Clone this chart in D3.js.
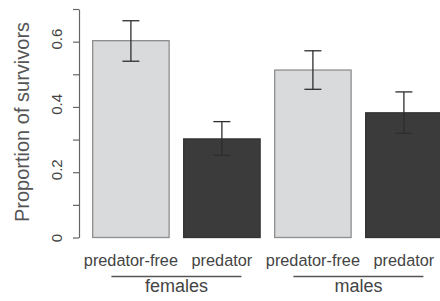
<!DOCTYPE html>
<html>
<head>
<meta charset="utf-8">
<script src="https://cdn.jsdelivr.net/npm/d3@7"></script>
<style>
  html, body { margin: 0; padding: 0; background: #fff; }
  svg { display: block; font-family: "Liberation Sans", Arial, Helvetica, sans-serif; }
</style>
</head>
<body>
<svg id="chart" width="440" height="301"></svg>
<script>
// ---- data ----
const categories = ["predator-free", "predator", "predator-free", "predator"];
const groups = ["females", "males"];
const groupOf = [0, 0, 1, 1];
const proportions = [0.603, 0.302, 0.513, 0.382];
const errLow = [0.540, 0.252, 0.454, 0.319];
const errHigh = [0.664, 0.355, 0.572, 0.446];
const yTickValues = [0, 0.1, 0.2, 0.3, 0.4, 0.5, 0.6, 0.7];
const yTickLabels = ["0", "", "0.2", "", "0.4", "", "0.6", ""];
const yTitle = "Proportion of survivors";

// ---- layout ----
const svg = d3.select("#chart");
const idx = d3.range(categories.length);

const x = d3.scaleBand()
  .domain(idx)
  .range([85.4, 449.4])
  .paddingInner(0.16)
  .paddingOuter(0.08);

const y = d3.scaleLinear().domain([0, 0.7]).range([237.5, 9]);

const fills = ["#d9dadc", "#3b3b3b", "#d9dadc", "#3b3b3b"];
const strokes = ["#8e8e8e", "#333333", "#8e8e8e", "#333333"];

// bars
svg.append("g").selectAll("rect")
  .data(idx)
  .join("rect")
  .attr("x", i => x(i))
  .attr("y", i => y(proportions[i]))
  .attr("width", x.bandwidth())
  .attr("height", i => y(0) - y(proportions[i]))
  .attr("fill", i => fills[i])
  .attr("stroke", i => strokes[i])
  .attr("stroke-width", 1.3);

// error bars
const eb = svg.append("g").attr("stroke", "#2e2e2e").attr("stroke-width", 1.3).attr("fill", "none");
const cap = 8.5;
idx.forEach(i => {
  const cx = x(i) + x.bandwidth() / 2;
  eb.append("line").attr("x1", cx).attr("x2", cx).attr("y1", y(errLow[i])).attr("y2", y(errHigh[i]));
  eb.append("line").attr("x1", cx - cap).attr("x2", cx + cap).attr("y1", y(errLow[i])).attr("y2", y(errLow[i]));
  eb.append("line").attr("x1", cx - cap).attr("x2", cx + cap).attr("y1", y(errHigh[i])).attr("y2", y(errHigh[i]));
});

// y axis
const axis = d3.axisLeft(y)
  .tickValues(yTickValues)
  .tickFormat((d, i) => yTickLabels[i])
  .tickSize(6)
  .tickSizeOuter(0);

const ag = svg.append("g").attr("transform", "translate(79,0)").call(axis);
ag.select(".domain").attr("stroke", "#666").attr("stroke-width", 1.2);
ag.selectAll(".tick line").attr("stroke", "#666").attr("stroke-width", 1.2);
ag.selectAll(".tick text")
  .attr("transform", "rotate(-90)")
  .attr("x", d => d === 0 ? 0 : 3)
  .attr("y", -17)
  .attr("dy", 0)
  .attr("text-anchor", "middle")
  .attr("fill", "#444")
  .style("font-size", "15px")
  .style("font-family", "'Liberation Sans', Arial, sans-serif");

// y title
svg.append("text")
  .attr("transform", "translate(29,122) rotate(-90)")
  .attr("text-anchor", "middle")
  .attr("fill", "#555")
  .style("font-size", "20px")
  .text(yTitle);

// category labels
svg.append("g").selectAll("text")
  .data(idx)
  .join("text")
  .attr("x", i => x(i) + x.bandwidth() / 2)
  .attr("y", 266)
  .attr("text-anchor", "middle")
  .attr("fill", "#444")
  .style("font-size", "16.3px")
  .text(i => categories[i]);

// group lines and labels
groups.forEach((g, gi) => {
  const members = idx.filter(i => groupOf[i] === gi);
  const c0 = x(members[0]) + x.bandwidth() / 2;
  const c1 = x(members[members.length - 1]) + x.bandwidth() / 2;
  const mid = (c0 + c1) / 2;
  svg.append("line")
    .attr("x1", mid - 65).attr("x2", mid + 65)
    .attr("y1", 276.5).attr("y2", 276.5)
    .attr("stroke", "#555").attr("stroke-width", 1.5);
  svg.append("text")
    .attr("x", mid)
    .attr("y", 292)
    .attr("text-anchor", "middle")
    .attr("fill", "#444")
    .style("font-size", "18px")
    .text(g);
});
</script>
</body>
</html>
